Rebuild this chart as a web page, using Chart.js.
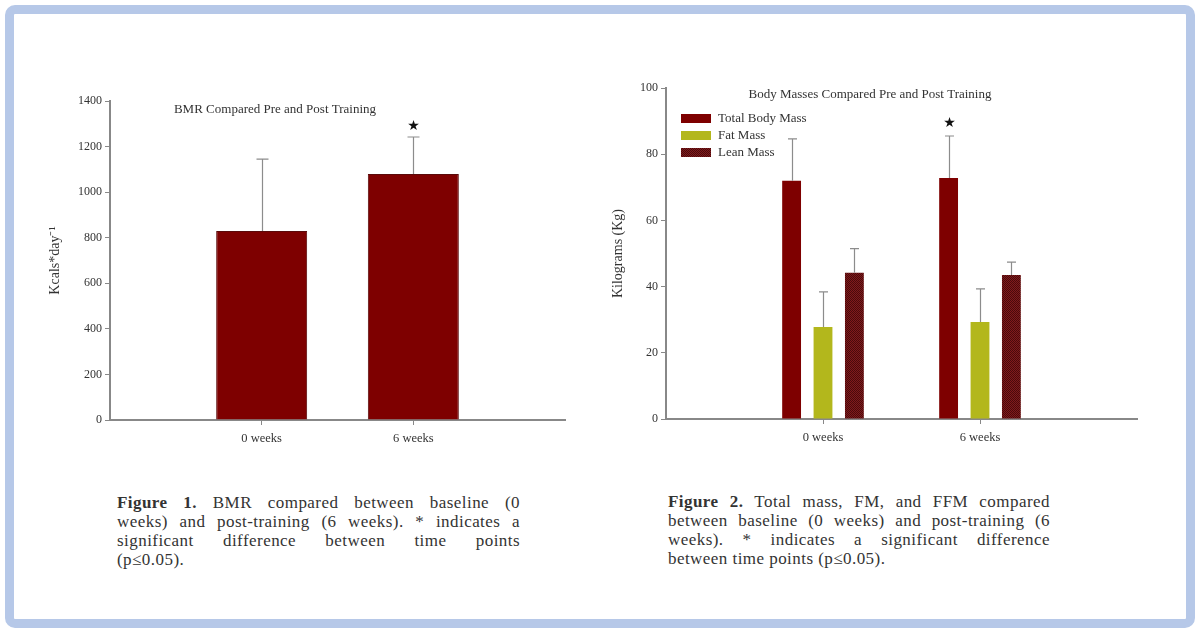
<!DOCTYPE html>
<html>
<head>
<meta charset="utf-8">
<script src="https://cdn.jsdelivr.net/npm/chart.js@4"></script>
<style>
  body { margin: 0; background: #fff; width: 1195px; height: 631px; overflow: hidden; position: relative; font-family: "Liberation Serif", serif; }
  #frame { position: absolute; left: 5px; top: 5px; width: 1172px; height: 605px; border: 9px solid #b6c8e8; border-radius: 10px; }
  canvas { position: absolute; top: 0; }
  #c1 { left: 0; }
  #c2 { left: 590px; }
  .cap { position: absolute; font-size: 17px; letter-spacing: 0.45px; line-height: 19px; color: #333; }
  .cap div { text-align: justify; text-align-last: justify; white-space: nowrap; }
  .cap div:last-child { text-align-last: left; }
  #cap1 { left: 117px; top: 493px; width: 403px; }
  #cap2 { left: 668px; top: 492px; width: 382px; }
</style>
</head>
<body>
<div id="frame"></div>
<canvas id="c1" width="600" height="470"></canvas>
<canvas id="c2" width="605" height="470"></canvas>

<div class="cap" id="cap1">
  <div><b>Figure 1.</b> BMR compared between baseline (0</div>
  <div>weeks) and post-training (6 weeks). * indicates a</div>
  <div>significant difference between time points</div>
  <div>(p≤0.05).</div>
</div>
<div class="cap" id="cap2">
  <div><b>Figure 2.</b> Total mass, FM, and FFM compared</div>
  <div>between baseline (0 weeks) and post-training (6</div>
  <div>weeks). * indicates a significant difference</div>
  <div>between time points (p≤0.05).</div>
</div>

<script>
// categories (empty slots give the padding on each side of the axis)
const weeks = ['', '0 weeks', '6 weeks', ''];

// Figure 1 - BMR
const bmrValues = [null, 830, 1080, null];
const bmrErrors = [null, 315, 162, null];
const bmrSignificant = [false, false, true, false];
const bmrAxis = [0, 1400, 200]; // min, max, step

// Figure 2 - body masses
const massLabels = ['Total Body Mass', 'Fat Mass', 'Lean Mass'];
const totalMass = [null, 72.0, 72.8, null];
const totalMassErr = [null, 12.6, 12.7, null];
const fatMass = [null, 27.8, 29.3, null];
const fatMassErr = [null, 10.6, 10.0, null];
const leanMass = [null, 44.2, 43.5, null];
const leanMassErr = [null, 7.3, 3.9, null];
const massSignificant = [false, false, true, false];
const massAxis = [0, 100, 20];

Chart.defaults.font.family = '"Liberation Serif", "Times New Roman", serif';
Chart.defaults.color = '#333';

// fine crosshatch used for the lean mass bars
function leanPattern() {
  const c = document.createElement('canvas');
  c.width = 2; c.height = 2;
  const g = c.getContext('2d');
  g.fillStyle = '#801a1c';
  g.fillRect(0, 0, 2, 2);
  g.fillStyle = '#4a0a0b';
  g.fillRect(0, 0, 1, 1);
  g.fillRect(1, 1, 1, 1);
  return g.createPattern(c, 'repeat');
}

// error bars (upper only) and significance star
const errorBars = {
  id: 'errorBars',
  afterDatasetsDraw(chart, args, opts) {
    const { ctx } = chart;
    const y = chart.scales.y;
    chart.data.datasets.forEach((ds, di) => {
      if (!ds.errors) return;
      const meta = chart.getDatasetMeta(di);
      meta.data.forEach((bar, i) => {
        const v = ds.data[i], e = ds.errors[i];
        if (v == null || e == null) return;
        const top = y.getPixelForValue(v + e);
        const x = Math.round(bar.x) + 0.5;
        ctx.save();
        ctx.strokeStyle = '#8c8c8c';
        ctx.lineWidth = 1.2;
        ctx.beginPath();
        ctx.moveTo(x, bar.y);
        ctx.lineTo(x, top);
        ctx.moveTo(x - opts.cap, top);
        ctx.lineTo(x + opts.cap, top);
        ctx.stroke();
        if (ds.significant && ds.significant[i]) {
          ctx.fillStyle = '#111';
          ctx.font = '14px "DejaVu Sans"';
          ctx.textAlign = 'center';
          ctx.textBaseline = 'middle';
          ctx.fillText('★', x, top - opts.starGap);
        }
        ctx.restore();
      });
    });
  }
};

const plotTitle = {
  id: 'plotTitle',
  afterDraw(chart, args, opts) {
    const { ctx } = chart;
    ctx.save();
    ctx.font = '13px "Liberation Serif"';
    ctx.fillStyle = '#333';
    ctx.textAlign = 'center';
    ctx.textBaseline = 'middle';
    ctx.fillText(opts.text, opts.x, opts.y);
    ctx.restore();
  }
};

const boxLegend = {
  id: 'boxLegend',
  afterDraw(chart, args, opts) {
    if (!opts.show) return;
    const { ctx, chartArea } = chart;
    ctx.save();
    ctx.font = '13px "Liberation Serif"';
    ctx.textBaseline = 'middle';
    chart.data.datasets.forEach((ds, i) => {
      const bx = chartArea.left + 15;
      const by = chartArea.top + 26 + i * 17;
      ctx.fillStyle = ds.backgroundColor;
      ctx.fillRect(bx, by, 30, 9);
      ctx.fillStyle = '#333';
      ctx.fillText(ds.label, bx + 37, by + 4.5);
    });
    ctx.restore();
  }
};

function xScale(height) {
  return {
    type: 'category',
    offset: false,
    grid: {
      offset: false,
      drawOnChartArea: false,
      tickLength: 5,
      color: ctx => (ctx.tick && ctx.tick.label) ? '#888' : 'rgba(0,0,0,0)'
    },
    border: { color: '#888', width: 2 },
    ticks: { font: { size: 12.5 }, color: '#333', padding: 6, autoSkip: false, maxRotation: 0 },
    afterFit: s => { s.height = height; }
  };
}

function yScale(axis, title, width) {
  return {
    min: axis[0],
    max: axis[1],
    grid: { drawOnChartArea: false, tickLength: 5, color: '#888' },
    border: { color: '#888', width: 2 },
    ticks: { stepSize: axis[2], font: { size: 12 }, color: '#333', padding: 3, callback: v => String(v) },
    title: { display: true, text: title, font: { size: 14, lineHeight: 1.2 }, color: '#333', padding: { top: 4, bottom: 4 } },
    afterFit: s => { s.width = width; }
  };
}

new Chart(document.getElementById('c1'), {
  type: 'bar',
  data: {
    labels: weeks,
    datasets: [{
      label: 'BMR',
      data: bmrValues,
      errors: bmrErrors,
      significant: bmrSignificant,
      backgroundColor: '#7e0000',
      borderColor: '#5a0a0a',
      borderWidth: 1,
      categoryPercentage: 1,
      barPercentage: 0.6
    }]
  },
  options: {
    responsive: false,
    animation: false,
    layout: { padding: { left: 43, top: 101, right: 35, bottom: 0 } },
    plugins: {
      legend: { display: false },
      tooltip: { enabled: false },
      errorBars: { cap: 6, starGap: 11 },
      plotTitle: { text: 'BMR Compared Pre and Post Training', x: 275, y: 110 },
      boxLegend: { show: false }
    },
    scales: {
      x: xScale(50),
      y: yScale(bmrAxis, 'Kcals*day⁻¹', 67)
    }
  },
  plugins: [errorBars, plotTitle, boxLegend]
});

new Chart(document.getElementById('c2'), {
  type: 'bar',
  data: {
    labels: weeks,
    datasets: [
      { label: massLabels[0], data: totalMass, errors: totalMassErr, significant: massSignificant, backgroundColor: '#7e0000' },
      { label: massLabels[1], data: fatMass, errors: fatMassErr, backgroundColor: '#b3b71c' },
      { label: massLabels[2], data: leanMass, errors: leanMassErr, backgroundColor: leanPattern() }
    ]
  },
  options: {
    responsive: false,
    animation: false,
    datasets: { bar: { categoryPercentage: 0.6, barPercentage: 0.6 } },
    layout: { padding: { left: 16, top: 88, right: 58, bottom: 0 } },
    plugins: {
      legend: { display: false },
      tooltip: { enabled: false },
      errorBars: { cap: 4.5, starGap: 13 },
      plotTitle: { text: 'Body Masses Compared Pre and Post Training', x: 280, y: 95 },
      boxLegend: { show: true }
    },
    scales: {
      x: xScale(51),
      y: yScale(massAxis, 'Kilograms (Kg)', 60)
    }
  },
  plugins: [errorBars, plotTitle, boxLegend]
});
</script>
</body>
</html>
